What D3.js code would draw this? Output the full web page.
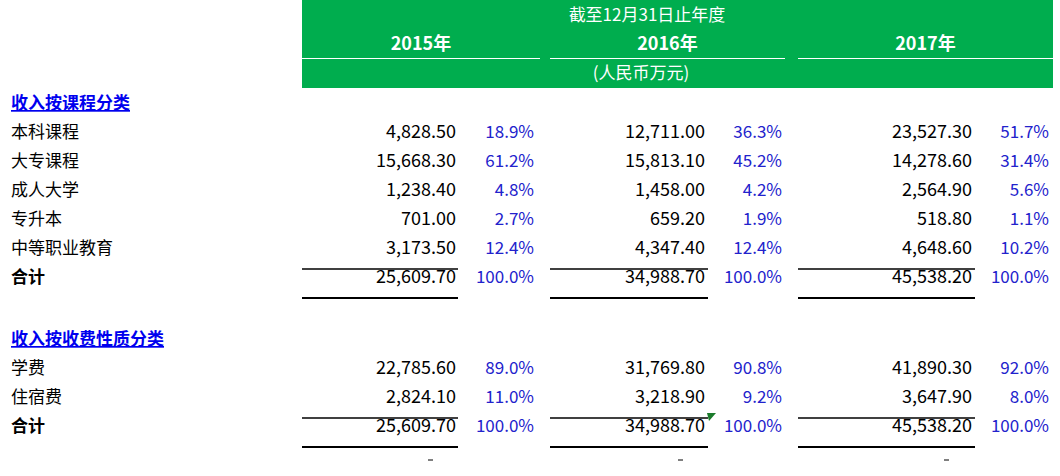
<!DOCTYPE html><html><head><meta charset="utf-8">
<script src="https://cdn.jsdelivr.net/npm/d3@7"></script>
<style>body{margin:0;background:#fff}</style></head><body><svg id="c" width="1060" height="476"></svg>
<script>
const years=["2015年","2016年","2017年"];
const sec1Title="收入按课程分类";
const sec1Cats=["本科课程","大专课程","成人大学","专升本","中等职业教育"];
const sec1Vals=[[4828.5,12711.0,23527.3],[15668.3,15813.1,14278.6],[1238.4,1458.0,2564.9],[701.0,659.2,518.8],[3173.5,4347.4,4648.6]];
const sec1Pct=[[18.9,36.3,51.7],[61.2,45.2,31.4],[4.8,4.2,5.6],[2.7,1.9,1.1],[12.4,12.4,10.2]];
const sec1Tot=[25609.7,34988.7,45538.2];
const sec2Title="收入按收费性质分类";
const sec2Cats=["学费","住宿费"];
const sec2Vals=[[22785.6,31769.8,41890.3],[2824.1,3218.9,3647.9]];
const sec2Pct=[[89.0,90.8,92.0],[11.0,9.2,8.0]];
const sec2Tot=[25609.7,34988.7,45538.2];
const totLabel="合计";

const svg=d3.select("#c");
const F="'Noto Sans CJK SC','Noto Sans',sans-serif";
const fmt=d3.format(",.2f");
const colX=d3.scaleOrdinal().domain([0,1,2]).range([302,550,798]);
const valR=d3.scaleOrdinal().domain([0,1,2]).range([456,705,972]);
const pctR=d3.scaleOrdinal().domain([0,1,2]).range([534,782,1049]);
const lineW=[156,158,177];
svg.append("rect").attr("x",302).attr("y",0).attr("width",751).attr("height",88).attr("fill","#00AD4E");
svg.append("text").attr("x",647).attr("y",21).attr("text-anchor","middle").attr("fill","#fff").attr("font-family",F).attr("font-size",17).text("截至12月31日止年度");
const hw=[238,235,255];
years.forEach((y,i)=>{
  svg.append("text").attr("x",colX(i)+hw[i]/2).attr("y",50).attr("text-anchor","middle").attr("fill","#fff").attr("font-family",F).attr("font-weight","bold").attr("font-size",18).text(y);
  svg.append("line").attr("x1",colX(i)).attr("x2",colX(i)+hw[i]).attr("y1",58.5).attr("y2",58.5).attr("stroke","#fff").attr("stroke-width",1);
});
svg.append("text").attr("x",641).attr("y",79).attr("text-anchor","middle").attr("fill","#fff").attr("font-family",F).attr("font-size",17).text("(人民币万元)");

function section(y0,title,cats,vals,pcts,tot){
  svg.append("text").attr("x",11).attr("y",y0).attr("fill","#0000EE").attr("font-family",F).attr("font-weight","bold").attr("font-size",17).attr("text-decoration","underline").text(title);
  const rows=cats.map((c,i)=>({c,v:vals[i],p:pcts[i],b:false}));
  rows.push({c:totLabel,v:tot,p:[100,100,100],b:true});
  rows.forEach((r,k)=>{
    const y=y0+29*(k+1)+(r.b&&cats.length<3?0:0);
    svg.append("text").attr("x",11).attr("y",y).attr("font-family",F).attr("font-size",17).attr("font-weight",r.b?"bold":"normal").attr("fill","#000").text(r.c);
    [0,1,2].forEach(i=>{
      svg.append("text").attr("x",valR(i)).attr("y",y).attr("text-anchor","end").attr("font-family",F).attr("font-size",18).attr("fill","#000").text(fmt(r.v[i]));
      svg.append("text").attr("x",pctR(i)).attr("y",y).attr("text-anchor","end").attr("font-family",F).attr("font-size",17).attr("fill","#2222CC").text(r.p[i].toFixed(1)+"%");
      if(r.b){
        [y-14,y+15].forEach(ly=>svg.append("line").attr("x1",colX(i)).attr("x2",colX(i)+lineW[i]).attr("y1",ly).attr("y2",ly).attr("stroke","#000").attr("stroke-width",ly>y?2:1.5));
      }
    });
  });
}
section(109,sec1Title,sec1Cats,sec1Vals,sec1Pct,sec1Tot);
section(345,sec2Title,sec2Cats,sec2Vals,sec2Pct,sec2Tot);
svg.append("path").attr("d","M707,413 L716,413 L709,421 Z").attr("fill","#1B7B2B");
[428,678,944].forEach(x=>svg.append("line").attr("x1",x).attr("x2",x+5).attr("y1",460).attr("y2",460).attr("stroke","#000"));
</script></body></html>
